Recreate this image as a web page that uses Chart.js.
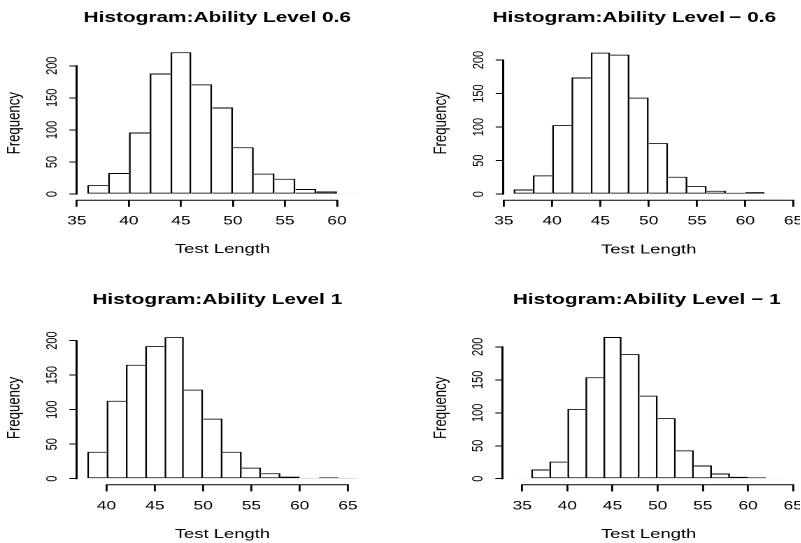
<!DOCTYPE html>
<html><head><meta charset="utf-8">
<script src="https://cdn.jsdelivr.net/npm/chart.js@4"></script>
<style>
html,body{margin:0;padding:0;background:#fff;width:801px;height:543px;overflow:hidden}
#wrap{position:relative;width:801px;height:543px;background:#fff}
canvas{position:absolute}
</style></head><body><div id="wrap">
<canvas id="c1" width="286" height="271" style="left:0px;top:0px;width:400.4px;height:271px"></canvas>
<canvas id="c2" width="286" height="271" style="left:400px;top:0px;width:400.4px;height:271px"></canvas>
<canvas id="c3" width="286" height="272" style="left:0px;top:271px;width:400.4px;height:272px"></canvas>
<canvas id="c4" width="286" height="272" style="left:400px;top:271px;width:400.4px;height:272px"></canvas>
</div>
<script>
// ---- data ----
const titles = ["Histogram:Ability Level 0.6", "Histogram:Ability Level\u2009\u2212 0.6", "Histogram:Ability Level 1", "Histogram:Ability Level \u2212 1"];
const xLabel = "Test Length";
const yLabel = "Frequency";
const edges06  = [36,38,40,42,44,46,48,50,52,54,56,58,60,62];
const freq06   = [14,33,96,188,221,171,135,73,32,24,8,4,1];
const edgesM06 = [36,38,40,42,44,46,48,50,52,54,56,58,60,62,64];
const freqM06  = [7,28,103,174,211,208,144,76,26,12,5,2,3,1];
const edges1   = [38,40,42,44,46,48,50,52,54,56,58,60,62,64,66];
const freq1    = [39,113,165,192,205,129,87,39,16,8,3,1,2,1];
const edgesM1  = [34,36,38,40,42,44,46,48,50,52,54,56,58,60,62,64];
const freqM1   = [1,14,26,106,154,215,189,126,92,43,20,8,3,2,1];
const xTicks06  = [35,40,45,50,55,60];
const xTicksM06 = [35,40,45,50,55,60,65];
const xTicks1   = [40,45,50,55,60,65];
const xTicksM1  = [35,40,45,50,55,60,65];
const yTicks    = [0,50,100,150,200];

// ---- style / layout ----
const FAM = "'Liberation Sans', Arial, Helvetica, sans-serif";
Chart.defaults.font.family = FAM;
Chart.defaults.color = '#000';
const TITLE_F = {size: 14.9, weight: 'bold', lineHeight: 1.2, family: FAM};
const AXT_F = {size: 13.2, lineHeight: 1.2, family: FAM};
const XTK_F = {size: 12.4, lineHeight: 1.2, family: FAM};
const YTK_F = {size: 11, lineHeight: 1.2, family: FAM};
const W = 286;

// R-style axis lines: drawn only between the first and last tick
const rAxes = {
  id: 'rAxes',
  afterDraw(chart) {
    const ctx = chart.ctx;
    const a = chart.chartArea;
    const xs = chart.scales.x, ys = chart.scales.y;
    const xv = chart.options.scales.x.rTicks, yv = chart.options.scales.y.rTicks;
    const ax = (Math.round(a.left * 2) + 0.5) / 2;
    ctx.save();
    ctx.strokeStyle = '#000000';
    ctx.lineWidth = 1.5;
    ctx.beginPath();
    ctx.moveTo(ax, ys.getPixelForValue(yv[0]) + 0.5);
    ctx.lineTo(ax, ys.getPixelForValue(yv[yv.length - 1]) - 0.5);
    ctx.stroke();
    const by = Math.round(a.bottom * 2) / 2 + 0.25;
    ctx.lineWidth = 1;
    ctx.beginPath();
    ctx.moveTo(xs.getPixelForValue(xv[0]) - 0.6, by);
    ctx.lineTo(xs.getPixelForValue(xv[xv.length - 1]) + 0.6, by);
    ctx.stroke();
    ctx.restore();
  }
};

function makeChart(id, edges, freq, xTicks, title, L) {
  const pts = freq.map((v, i) => ({x: (edges[i] + edges[i + 1]) / 2, y: v}));
  const lo = edges[0], hi = edges[edges.length - 1];
  const ymax = Math.max(...freq);
  const H = L.h;
  const yW = L.left;
  const rW = L.left + 2 * (L.tc - (L.left + L.right) / 2);
  const padR = W - L.right - rW;
  const tlh = TITLE_F.size * TITLE_F.lineHeight;
  const alh = AXT_F.size * AXT_F.lineHeight;
  const n = freq.length;
  new Chart(document.getElementById(id), {
    type: 'bar',
    data: {datasets: [{
      data: pts,
      backgroundColor: '#ffffff',
      borderColor: '#000000',
      borderSkipped: false,
      inflateAmount: 0,
      barPercentage: 1,
      categoryPercentage: 1,
      borderWidth: (c) => {
        const i = c.dataIndex;
        const v = freq[i];
        return {
          top: 1, bottom: 1,
          left: (i === 0 || freq[i - 1] < v) ? 1.3 : 0,
          right: (i === n - 1 || v >= freq[i + 1]) ? 1.3 : 0
        };
      }
    }]},
    options: {
      responsive: false,
      devicePixelRatio: 2,
      animation: false,
      events: [],
      layout: {padding: {left: 0, right: padR, top: 0, bottom: 0}},
      plugins: {
        legend: {display: false},
        tooltip: {enabled: false},
        title: {
          display: true, text: title, fullSize: true, align: 'center', color: '#000',
          font: TITLE_F,
          padding: {top: L.ty - tlh / 2, bottom: L.top - L.ty - tlh / 2}
        }
      },
      scales: {
        x: {
          type: 'linear', position: 'bottom', bounds: 'data', offset: false,
          rTicks: xTicks,
          min: lo - 0.04 * (hi - lo), max: hi + 0.04 * (hi - lo),
          grid: {display: true, offset: false, drawOnChartArea: false, drawTicks: true, tickLength: 7, color: '#000', tickColor: '#000', lineWidth: 1.4},
          border: {display: false},
          ticks: {font: XTK_F, color: '#000', padding: 7, autoSkip: false, maxRotation: 0, minRotation: 0},
          title: {display: true, text: xLabel, color: '#000', font: AXT_F, padding: {top: 0, bottom: L.xb - alh / 2}},
          afterBuildTicks: (s) => { s.ticks = xTicks.map(v => ({value: v})); },
          afterFit: (s) => { s.height = H - L.bottom; s.paddingLeft = 0; s.paddingRight = 0; }
        },
        y: {
          type: 'linear', position: 'left', bounds: 'data',
          rTicks: yTicks,
          min: -0.04 * ymax, max: 1.04 * ymax,
          grid: {display: true, drawOnChartArea: false, drawTicks: true, tickLength: 5, color: '#000', tickColor: '#000', lineWidth: 1},
          border: {display: false},
          ticks: {font: YTK_F, color: '#000', padding: 3, autoSkip: false, minRotation: 90, maxRotation: 90, crossAlign: 'center'},
          title: {display: true, text: yLabel, color: '#000', font: AXT_F, padding: {top: L.fx - alh / 2, bottom: 0}},
          afterBuildTicks: (s) => { s.ticks = yTicks.map(v => ({value: v})); },
          afterFit: (s) => { s.width = yW; s.paddingTop = 0; s.paddingBottom = 0; }
        },
        yR: {
          type: 'linear', position: 'right', display: true, min: 0, max: 1,
          grid: {display: false}, border: {display: false},
          ticks: {display: false}, title: {display: false},
          afterFit: (s) => { s.width = rW; s.paddingTop = 0; s.paddingBottom = 0; }
        }
      }
    },
    plugins: [rAxes]
  });
}

makeChart('c1', edges06, freq06, xTicks06, titles[0],
  {h: 271, left: 54.64, right: 263.57, top: 46.6, bottom: 199.8, tc: 155.36, ty: 17.8, fx: 10.3, xb: 21.5});
makeChart('c2', edgesM06, freqM06, xTicksM06, titles[1],
  {h: 271, left: 73.43, right: 282.21, top: 47.0, bottom: 199.8, tc: 167.5, ty: 17.8, fx: 29.4, xb: 21});
makeChart('c3', edges1, freq1, xTicks1, titles[2],
  {h: 272, left: 54.64, right: 263.43, top: 60.5, bottom: 213.4, tc: 155.36, ty: 29, fx: 10.3, xb: 8.7});
makeChart('c4', edgesM1, freqM1, xTicksM1, titles[3],
  {h: 272, left: 73.14, right: 282.43, top: 60.3, bottom: 213.4, tc: 176.4, ty: 29, fx: 29.4, xb: 8.7});
</script>
</body></html>
